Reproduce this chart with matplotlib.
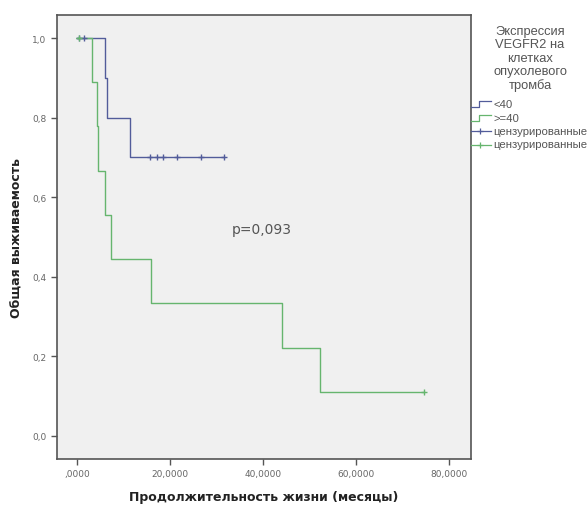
import numpy as np
import matplotlib.pyplot as plt
from matplotlib.lines import Line2D

# Kaplan-Meier steps (months, survival)
blue_t = [0, 6.0, 6.4, 11.4, 31.6]
blue_s = [1.0, 0.9, 0.8, 0.7, 0.7]
blue_cens_t = [0.4, 1.6, 15.7, 17.2, 18.5, 21.5, 26.7, 31.6]
blue_cens_s = [1.0, 1.0, 0.7, 0.7, 0.7, 0.7, 0.7, 0.7]

green_t = [0, 3.3, 4.2, 4.6, 6.0, 7.4, 15.9, 44.0, 52.3, 74.6]
green_s = [1.0, 0.889, 0.778, 0.667, 0.556, 0.444, 0.333, 0.222, 0.111, 0.111]
green_cens_t = [0.5, 74.6]
green_cens_s = [1.0, 0.111]

xticks = [0, 20, 40, 60, 80]
xtick_labels = [',0000', '20,0000', '40,0000', '60,0000', '80,0000']
yticks = [0.0, 0.2, 0.4, 0.6, 0.8, 1.0]
ytick_labels = ['0,0', '0,2', '0,4', '0,6', '0,8', '1,0']

legend_title = ['Экспрессия', 'VEGFR2 на', 'клетках', 'опухолевого', 'тромба']
legend_labels = ['<40', '>=40', 'цензурированные', 'цензурированные']

blue = '#525c9a'
green = '#66b56e'
W, H = 587, 506

fig = plt.figure(figsize=(5.87, 5.06), dpi=100)
ax = fig.add_axes([0.0971, 0.0909, 0.7053, 0.8775])
ax.set_facecolor('#f0f0f0')

ax.step(blue_t, blue_s, where='post', color=blue, lw=1)
ax.step(green_t, green_s, where='post', color=green, lw=1)
ax.plot(blue_cens_t, blue_cens_s, '+', color=blue, ms=5, mew=1)
ax.plot(green_cens_t, green_cens_s, '+', color=green, ms=5, mew=1)

ax.set_xlim(-4.3, 84.7)
ax.set_ylim(-0.058, 1.058)
ax.set_xticks(xticks)
ax.set_xticklabels(xtick_labels)
ax.set_yticks(yticks)
ax.set_yticklabels(ytick_labels)
ax.tick_params(labelsize=6.5, colors='#555555', length=4, width=1, labelcolor='#666666')
for sp in ax.spines.values():
    sp.set_color('#555555')
    sp.set_linewidth(1.2)

ax.text(33.3, 0.52, 'p=0,093', fontsize=10, color='#555555', ha='left', va='center')

ax.set_xlabel('Продолжительность жизни (месяцы)', fontsize=9, fontweight='bold', color='#222222', labelpad=8)
ax.set_ylabel('Общая выживаемость', fontsize=9, fontweight='bold', color='#222222')
ax.yaxis.set_label_coords(-0.08, 0.5)

# legend drawn by hand, positions in pixels
def fx(px):
    return px / W

def fy(py):
    return 1 - py / H

for i, line in enumerate(legend_title):
    fig.text(fx(530), fy(32 + 13.5 * i), line, fontsize=9.3, color='#555555',
             ha='center', va='center', family='Liberation Sans')

colors = [blue, green, blue, green]
for i, (lab, c) in enumerate(zip(legend_labels, colors)):
    y = 105 + 13.5 * i
    if i < 2:
        xs = [471, 479, 479, 491]
        ys = [y + 3, y + 3, y - 3, y - 3]
        fig.add_artist(Line2D([fx(v) for v in xs], [fy(v) for v in ys], color=c, lw=0.9))
    else:
        fig.add_artist(Line2D([fx(471), fx(491)], [fy(y), fy(y)], color=c, lw=0.9))
        fig.add_artist(Line2D([fx(480)], [fy(y)], color=c, marker='+', ms=5, mew=0.9))
    fig.text(fx(493), fy(y), lab, fontsize=8.2, color='#555555', ha='left', va='center',
             family='Liberation Sans')

fig.savefig('out.png', dpi=100)
